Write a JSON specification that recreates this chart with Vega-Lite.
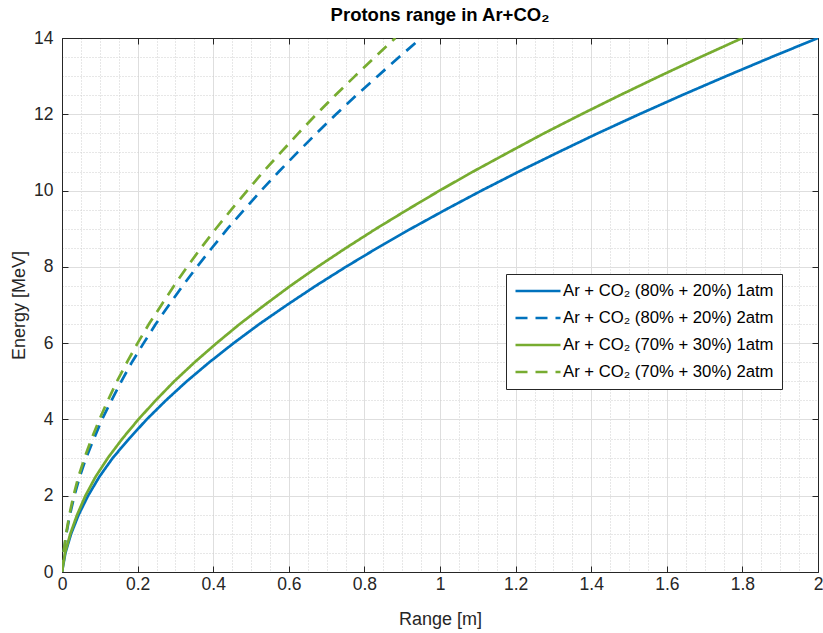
{
  "$schema": "https://vega.github.io/schema/vega-lite/v6.json",
  "autosize": {"type": "none"},
  "padding": {"left": 62, "top": 38, "right": 5, "bottom": 61},
  "width": 756,
  "height": 534,
  "background": "white",
  "config": {
    "font": "Liberation Sans",
    "view": {"stroke": null},
    "axis": {"labelFont": "Liberation Sans", "titleFont": "Liberation Sans"}
  },
  "title": {
    "text": "Protons range in Ar+CO₂",
    "fontSize": 18.5,
    "fontWeight": "bold",
    "color": "#000000",
    "anchor": "middle",
    "offset": 5
  },
  "datasets": {
    "curves": [
      {"series": "Ar + CO₂ (80% + 20%) 1atm", "energy": 0, "range": 0},
      {"series": "Ar + CO₂ (80% + 20%) 1atm", "energy": 0.5, "range": 0.009},
      {"series": "Ar + CO₂ (80% + 20%) 1atm", "energy": 1, "range": 0.024},
      {"series": "Ar + CO₂ (80% + 20%) 1atm", "energy": 1.5, "range": 0.044},
      {"series": "Ar + CO₂ (80% + 20%) 1atm", "energy": 2, "range": 0.069},
      {"series": "Ar + CO₂ (80% + 20%) 1atm", "energy": 2.5, "range": 0.099},
      {"series": "Ar + CO₂ (80% + 20%) 1atm", "energy": 3, "range": 0.135},
      {"series": "Ar + CO₂ (80% + 20%) 1atm", "energy": 3.5, "range": 0.178},
      {"series": "Ar + CO₂ (80% + 20%) 1atm", "energy": 4, "range": 0.224},
      {"series": "Ar + CO₂ (80% + 20%) 1atm", "energy": 4.5, "range": 0.275},
      {"series": "Ar + CO₂ (80% + 20%) 1atm", "energy": 5, "range": 0.330},
      {"series": "Ar + CO₂ (80% + 20%) 1atm", "energy": 5.5, "range": 0.390},
      {"series": "Ar + CO₂ (80% + 20%) 1atm", "energy": 6, "range": 0.454},
      {"series": "Ar + CO₂ (80% + 20%) 1atm", "energy": 6.5, "range": 0.522},
      {"series": "Ar + CO₂ (80% + 20%) 1atm", "energy": 7, "range": 0.595},
      {"series": "Ar + CO₂ (80% + 20%) 1atm", "energy": 7.5, "range": 0.671},
      {"series": "Ar + CO₂ (80% + 20%) 1atm", "energy": 8, "range": 0.751},
      {"series": "Ar + CO₂ (80% + 20%) 1atm", "energy": 8.5, "range": 0.835},
      {"series": "Ar + CO₂ (80% + 20%) 1atm", "energy": 9, "range": 0.923},
      {"series": "Ar + CO₂ (80% + 20%) 1atm", "energy": 9.5, "range": 1.015},
      {"series": "Ar + CO₂ (80% + 20%) 1atm", "energy": 10, "range": 1.110},
      {"series": "Ar + CO₂ (80% + 20%) 1atm", "energy": 10.5, "range": 1.209},
      {"series": "Ar + CO₂ (80% + 20%) 1atm", "energy": 11, "range": 1.312},
      {"series": "Ar + CO₂ (80% + 20%) 1atm", "energy": 11.5, "range": 1.417},
      {"series": "Ar + CO₂ (80% + 20%) 1atm", "energy": 12, "range": 1.527},
      {"series": "Ar + CO₂ (80% + 20%) 1atm", "energy": 12.5, "range": 1.640},
      {"series": "Ar + CO₂ (80% + 20%) 1atm", "energy": 13, "range": 1.757},
      {"series": "Ar + CO₂ (80% + 20%) 1atm", "energy": 13.5, "range": 1.877},
      {"series": "Ar + CO₂ (80% + 20%) 1atm", "energy": 14, "range": 2.000},

      {"series": "Ar + CO₂ (80% + 20%) 2atm", "energy": 0, "range": 0},
      {"series": "Ar + CO₂ (80% + 20%) 2atm", "energy": 0.5, "range": 0.0043},
      {"series": "Ar + CO₂ (80% + 20%) 2atm", "energy": 1, "range": 0.0114},
      {"series": "Ar + CO₂ (80% + 20%) 2atm", "energy": 1.5, "range": 0.0209},
      {"series": "Ar + CO₂ (80% + 20%) 2atm", "energy": 2, "range": 0.0328},
      {"series": "Ar + CO₂ (80% + 20%) 2atm", "energy": 2.5, "range": 0.047},
      {"series": "Ar + CO₂ (80% + 20%) 2atm", "energy": 3, "range": 0.0641},
      {"series": "Ar + CO₂ (80% + 20%) 2atm", "energy": 3.5, "range": 0.0846},
      {"series": "Ar + CO₂ (80% + 20%) 2atm", "energy": 4, "range": 0.106},
      {"series": "Ar + CO₂ (80% + 20%) 2atm", "energy": 4.5, "range": 0.131},
      {"series": "Ar + CO₂ (80% + 20%) 2atm", "energy": 5, "range": 0.157},
      {"series": "Ar + CO₂ (80% + 20%) 2atm", "energy": 5.5, "range": 0.185},
      {"series": "Ar + CO₂ (80% + 20%) 2atm", "energy": 6, "range": 0.216},
      {"series": "Ar + CO₂ (80% + 20%) 2atm", "energy": 6.5, "range": 0.248},
      {"series": "Ar + CO₂ (80% + 20%) 2atm", "energy": 7, "range": 0.283},
      {"series": "Ar + CO₂ (80% + 20%) 2atm", "energy": 7.5, "range": 0.319},
      {"series": "Ar + CO₂ (80% + 20%) 2atm", "energy": 8, "range": 0.357},
      {"series": "Ar + CO₂ (80% + 20%) 2atm", "energy": 8.5, "range": 0.397},
      {"series": "Ar + CO₂ (80% + 20%) 2atm", "energy": 9, "range": 0.438},
      {"series": "Ar + CO₂ (80% + 20%) 2atm", "energy": 9.5, "range": 0.482},
      {"series": "Ar + CO₂ (80% + 20%) 2atm", "energy": 10, "range": 0.527},
      {"series": "Ar + CO₂ (80% + 20%) 2atm", "energy": 10.5, "range": 0.574},
      {"series": "Ar + CO₂ (80% + 20%) 2atm", "energy": 11, "range": 0.623},
      {"series": "Ar + CO₂ (80% + 20%) 2atm", "energy": 11.5, "range": 0.673},
      {"series": "Ar + CO₂ (80% + 20%) 2atm", "energy": 12, "range": 0.725},
      {"series": "Ar + CO₂ (80% + 20%) 2atm", "energy": 12.5, "range": 0.779},
      {"series": "Ar + CO₂ (80% + 20%) 2atm", "energy": 13, "range": 0.835},
      {"series": "Ar + CO₂ (80% + 20%) 2atm", "energy": 13.5, "range": 0.892},
      {"series": "Ar + CO₂ (80% + 20%) 2atm", "energy": 14, "range": 0.950},

      {"series": "Ar + CO₂ (70% + 30%) 1atm", "energy": 0, "range": 0},
      {"series": "Ar + CO₂ (70% + 30%) 1atm", "energy": 0.5, "range": 0.008},
      {"series": "Ar + CO₂ (70% + 30%) 1atm", "energy": 1, "range": 0.022},
      {"series": "Ar + CO₂ (70% + 30%) 1atm", "energy": 1.5, "range": 0.040},
      {"series": "Ar + CO₂ (70% + 30%) 1atm", "energy": 2, "range": 0.062},
      {"series": "Ar + CO₂ (70% + 30%) 1atm", "energy": 2.5, "range": 0.089},
      {"series": "Ar + CO₂ (70% + 30%) 1atm", "energy": 3, "range": 0.122},
      {"series": "Ar + CO₂ (70% + 30%) 1atm", "energy": 3.5, "range": 0.160},
      {"series": "Ar + CO₂ (70% + 30%) 1atm", "energy": 4, "range": 0.202},
      {"series": "Ar + CO₂ (70% + 30%) 1atm", "energy": 4.5, "range": 0.248},
      {"series": "Ar + CO₂ (70% + 30%) 1atm", "energy": 5, "range": 0.297},
      {"series": "Ar + CO₂ (70% + 30%) 1atm", "energy": 5.5, "range": 0.351},
      {"series": "Ar + CO₂ (70% + 30%) 1atm", "energy": 6, "range": 0.409},
      {"series": "Ar + CO₂ (70% + 30%) 1atm", "energy": 6.5, "range": 0.470},
      {"series": "Ar + CO₂ (70% + 30%) 1atm", "energy": 7, "range": 0.536},
      {"series": "Ar + CO₂ (70% + 30%) 1atm", "energy": 7.5, "range": 0.604},
      {"series": "Ar + CO₂ (70% + 30%) 1atm", "energy": 8, "range": 0.676},
      {"series": "Ar + CO₂ (70% + 30%) 1atm", "energy": 8.5, "range": 0.752},
      {"series": "Ar + CO₂ (70% + 30%) 1atm", "energy": 9, "range": 0.831},
      {"series": "Ar + CO₂ (70% + 30%) 1atm", "energy": 9.5, "range": 0.914},
      {"series": "Ar + CO₂ (70% + 30%) 1atm", "energy": 10, "range": 0.999},
      {"series": "Ar + CO₂ (70% + 30%) 1atm", "energy": 10.5, "range": 1.088},
      {"series": "Ar + CO₂ (70% + 30%) 1atm", "energy": 11, "range": 1.181},
      {"series": "Ar + CO₂ (70% + 30%) 1atm", "energy": 11.5, "range": 1.275},
      {"series": "Ar + CO₂ (70% + 30%) 1atm", "energy": 12, "range": 1.374},
      {"series": "Ar + CO₂ (70% + 30%) 1atm", "energy": 12.5, "range": 1.476},
      {"series": "Ar + CO₂ (70% + 30%) 1atm", "energy": 13, "range": 1.581},
      {"series": "Ar + CO₂ (70% + 30%) 1atm", "energy": 13.5, "range": 1.689},
      {"series": "Ar + CO₂ (70% + 30%) 1atm", "energy": 14, "range": 1.800},

      {"series": "Ar + CO₂ (70% + 30%) 2atm", "energy": 0, "range": 0},
      {"series": "Ar + CO₂ (70% + 30%) 2atm", "energy": 0.5, "range": 0.0039},
      {"series": "Ar + CO₂ (70% + 30%) 2atm", "energy": 1, "range": 0.0108},
      {"series": "Ar + CO₂ (70% + 30%) 2atm", "energy": 1.5, "range": 0.0196},
      {"series": "Ar + CO₂ (70% + 30%) 2atm", "energy": 2, "range": 0.0304},
      {"series": "Ar + CO₂ (70% + 30%) 2atm", "energy": 2.5, "range": 0.0436},
      {"series": "Ar + CO₂ (70% + 30%) 2atm", "energy": 3, "range": 0.0598},
      {"series": "Ar + CO₂ (70% + 30%) 2atm", "energy": 3.5, "range": 0.0784},
      {"series": "Ar + CO₂ (70% + 30%) 2atm", "energy": 4, "range": 0.099},
      {"series": "Ar + CO₂ (70% + 30%) 2atm", "energy": 4.5, "range": 0.1215},
      {"series": "Ar + CO₂ (70% + 30%) 2atm", "energy": 5, "range": 0.1455},
      {"series": "Ar + CO₂ (70% + 30%) 2atm", "energy": 5.5, "range": 0.172},
      {"series": "Ar + CO₂ (70% + 30%) 2atm", "energy": 6, "range": 0.200},
      {"series": "Ar + CO₂ (70% + 30%) 2atm", "energy": 6.5, "range": 0.230},
      {"series": "Ar + CO₂ (70% + 30%) 2atm", "energy": 7, "range": 0.263},
      {"series": "Ar + CO₂ (70% + 30%) 2atm", "energy": 7.5, "range": 0.296},
      {"series": "Ar + CO₂ (70% + 30%) 2atm", "energy": 8, "range": 0.331},
      {"series": "Ar + CO₂ (70% + 30%) 2atm", "energy": 8.5, "range": 0.368},
      {"series": "Ar + CO₂ (70% + 30%) 2atm", "energy": 9, "range": 0.407},
      {"series": "Ar + CO₂ (70% + 30%) 2atm", "energy": 9.5, "range": 0.448},
      {"series": "Ar + CO₂ (70% + 30%) 2atm", "energy": 10, "range": 0.490},
      {"series": "Ar + CO₂ (70% + 30%) 2atm", "energy": 10.5, "range": 0.533},
      {"series": "Ar + CO₂ (70% + 30%) 2atm", "energy": 11, "range": 0.579},
      {"series": "Ar + CO₂ (70% + 30%) 2atm", "energy": 11.5, "range": 0.625},
      {"series": "Ar + CO₂ (70% + 30%) 2atm", "energy": 12, "range": 0.673},
      {"series": "Ar + CO₂ (70% + 30%) 2atm", "energy": 12.5, "range": 0.723},
      {"series": "Ar + CO₂ (70% + 30%) 2atm", "energy": 13, "range": 0.775},
      {"series": "Ar + CO₂ (70% + 30%) 2atm", "energy": 13.5, "range": 0.828},
      {"series": "Ar + CO₂ (70% + 30%) 2atm", "energy": 14, "range": 0.882}
    ]
  },
  "data": {"name": "curves"},
  "resolve": {
    "scale": {"x": "independent", "y": "independent"},
    "axis": {"x": "independent", "y": "independent"}
  },
  "layer": [
    {
      "mark": {"type": "point", "opacity": 0},
      "encoding": {
        "x": {
          "field": "range", "type": "quantitative",
          "scale": {"domain": [0, 2], "nice": false, "zero": false},
          "axis": {
            "orient": "bottom", "title": null, "labels": false, "ticks": false, "domain": false,
            "grid": true, "gridColor": "#cfcfcf", "gridDash": [1, 2], "gridWidth": 1,
            "values": [0.05, 0.1, 0.15, 0.25, 0.3, 0.35, 0.45, 0.5, 0.55, 0.65, 0.7, 0.75, 0.85, 0.9, 0.95, 1.05, 1.1, 1.15, 1.25, 1.3, 1.35, 1.45, 1.5, 1.55, 1.65, 1.7, 1.75, 1.85, 1.9, 1.95]
          }
        },
        "y": {
          "field": "energy", "type": "quantitative",
          "scale": {"domain": [0, 14], "nice": false, "zero": false},
          "axis": {
            "orient": "left", "title": null, "labels": false, "ticks": false, "domain": false,
            "grid": true, "gridColor": "#cfcfcf", "gridDash": [1, 2], "gridWidth": 1,
            "values": [0.5, 1, 1.5, 2.5, 3, 3.5, 4.5, 5, 5.5, 6.5, 7, 7.5, 8.5, 9, 9.5, 10.5, 11, 11.5, 12.5, 13, 13.5]
          }
        }
      }
    },
    {
      "mark": {"type": "line", "strokeWidth": 2.7, "clip": true},
      "encoding": {
        "x": {
          "field": "range", "type": "quantitative",
          "scale": {"domain": [0, 2], "nice": false, "zero": false},
          "axis": {
            "orient": "bottom", "title": "Range [m]", "titleFontSize": 18, "titleFontWeight": "normal",
            "titleColor": "#262626", "titlePadding": 18,
            "values": [0, 0.2, 0.4, 0.6, 0.8, 1, 1.2, 1.4, 1.6, 1.8, 2],
            "labelExpr": "format(datum.value, '~g')",
            "labelFontSize": 17.5, "labelColor": "#262626", "labelPadding": 9,
            "tickSize": -6, "tickColor": "#262626", "domainColor": "#262626",
            "labelFlush": false,
            "grid": true, "gridColor": "#dedede", "gridWidth": 1
          }
        },
        "y": {
          "field": "energy", "type": "quantitative",
          "scale": {"domain": [0, 14], "nice": false, "zero": false},
          "axis": {
            "orient": "left", "title": "Energy [MeV]", "titleFontSize": 18, "titleFontWeight": "normal",
            "titleColor": "#262626", "titlePadding": 5,
            "values": [0, 2, 4, 6, 8, 10, 12, 14],
            "labelFontSize": 17.5, "labelColor": "#262626", "labelPadding": 15,
            "tickSize": -6, "tickColor": "#262626", "domainColor": "#262626",
            "labelFlush": false,
            "grid": true, "gridColor": "#dedede", "gridWidth": 1
          }
        },
        "color": {
          "field": "series", "type": "nominal",
          "scale": {
            "domain": ["Ar + CO₂ (80% + 20%) 1atm", "Ar + CO₂ (80% + 20%) 2atm", "Ar + CO₂ (70% + 30%) 1atm", "Ar + CO₂ (70% + 30%) 2atm"],
            "range": ["#0072BD", "#0072BD", "#77AC30", "#77AC30"]
          },
          "legend": {
            "title": null,
            "orient": "none", "legendX": 444, "legendY": 236,
            "direction": "vertical",
            "labelFontSize": 16.7, "labelColor": "#000000", "labelLimit": 400,
            "labelOffset": 16,
            "symbolType": "M-3,0H3", "symbolSize": 225, "symbolStrokeWidth": 2.7,
            "symbolOffset": 15,
            "rowPadding": 9,
            "padding": 8,
            "strokeColor": "#262626", "fillColor": "white"
          }
        },
        "strokeDash": {
          "field": "series", "type": "nominal",
          "scale": {
            "domain": ["Ar + CO₂ (80% + 20%) 1atm", "Ar + CO₂ (80% + 20%) 2atm", "Ar + CO₂ (70% + 30%) 1atm", "Ar + CO₂ (70% + 30%) 2atm"],
            "range": [[1, 0], [12, 8], [1, 0], [12, 8]]
          },
          "legend": null
        },
        "order": {"field": "energy", "type": "quantitative"}
      }
    },
    {
      "mark": {"type": "point", "opacity": 0},
      "encoding": {
        "x": {
          "field": "range", "type": "quantitative",
          "scale": {"domain": [0, 2], "nice": false, "zero": false},
          "axis": {
            "orient": "top", "title": null, "labels": false, "grid": false,
            "values": [0, 0.2, 0.4, 0.6, 0.8, 1, 1.2, 1.4, 1.6, 1.8, 2],
            "tickSize": -6, "tickColor": "#262626", "domainColor": "#262626"
          }
        },
        "y": {
          "field": "energy", "type": "quantitative",
          "scale": {"domain": [0, 14], "nice": false, "zero": false},
          "axis": {
            "orient": "right", "title": null, "labels": false, "grid": false,
            "values": [0, 2, 4, 6, 8, 10, 12, 14],
            "tickSize": -6, "tickColor": "#262626", "domainColor": "#262626"
          }
        }
      }
    }
  ]
}
